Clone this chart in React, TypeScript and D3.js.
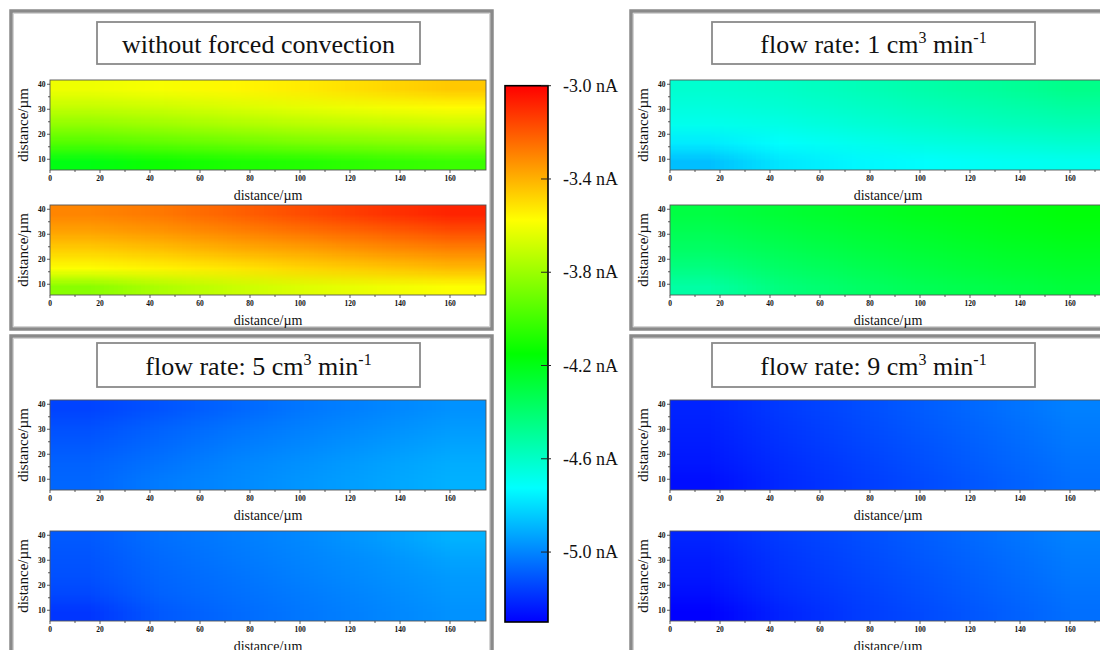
import React, { useMemo } from "react";
import * as d3 from "d3";

// Scan extents (µm) and current range (nA)
const X_EXTENT = [0, 174.4];
const Y_EXTENT = [5.7, 41.7];
const CURRENT_RANGE = [-5.3, -3.0];
const RAINBOW = ["#0000ff", "#00ffff", "#00ff00", "#ffff00", "#ff0000"];

const COLORBAR_TICKS = [-3.0, -3.4, -3.8, -4.2, -4.6, -5.0];
const X_MAJOR = [0, 20, 40, 60, 80, 100, 120, 140, 160];
const X_MINOR = [10, 30, 50, 70, 90, 110, 130, 150, 170];
const Y_MAJOR = [10, 20, 30, 40];
const Y_MINOR = [15, 25, 35];

// Sampling grid of the SECM maps (cell centres, µm)
const GRID_X = [14.5, 43.6, 72.7, 101.8, 130.9, 160.0];
const GRID_Y = [38.1, 30.9, 23.7, 16.5, 9.3];

// Tip current maps (nA), rows follow GRID_Y, columns follow GRID_X
const stillUpper = [
  [-3.61, -3.59, -3.56, -3.53, -3.49, -3.45],
  [-3.71, -3.69, -3.66, -3.63, -3.6, -3.57],
  [-3.83, -3.8, -3.77, -3.74, -3.72, -3.7],
  [-3.97, -3.94, -3.91, -3.88, -3.86, -3.84],
  [-4.19, -4.12, -4.09, -4.07, -4.04, -4.02],
];
const stillLower = [
  [-3.3, -3.27, -3.22, -3.17, -3.12, -3.08],
  [-3.37, -3.34, -3.3, -3.26, -3.22, -3.18],
  [-3.47, -3.44, -3.4, -3.37, -3.33, -3.3],
  [-3.58, -3.55, -3.52, -3.48, -3.45, -3.42],
  [-3.84, -3.76, -3.7, -3.65, -3.61, -3.58],
];
const flow1Upper = [
  [-4.62, -4.6, -4.57, -4.53, -4.5, -4.46],
  [-4.65, -4.63, -4.6, -4.57, -4.54, -4.51],
  [-4.69, -4.67, -4.64, -4.61, -4.58, -4.56],
  [-4.77, -4.72, -4.69, -4.66, -4.64, -4.62],
  [-4.87, -4.78, -4.74, -4.72, -4.7, -4.69],
];
const flow1Lower = [
  [-4.3, -4.27, -4.24, -4.21, -4.19, -4.17],
  [-4.34, -4.3, -4.27, -4.24, -4.21, -4.19],
  [-4.38, -4.34, -4.3, -4.27, -4.24, -4.22],
  [-4.44, -4.38, -4.34, -4.3, -4.27, -4.25],
  [-4.52, -4.43, -4.38, -4.34, -4.31, -4.28],
];
const flow5Upper = [
  [-5.15, -5.11, -5.07, -5.03, -5.0, -4.97],
  [-5.12, -5.08, -5.04, -5.01, -4.98, -4.95],
  [-5.1, -5.06, -5.02, -4.99, -4.96, -4.93],
  [-5.08, -5.04, -5.0, -4.97, -4.94, -4.91],
  [-5.07, -5.02, -4.99, -4.96, -4.93, -4.9],
];
const flow5Lower = [
  [-5.1, -5.05, -5.02, -4.99, -4.95, -4.9],
  [-5.11, -5.06, -5.03, -5.0, -4.97, -4.93],
  [-5.12, -5.07, -5.04, -5.01, -4.98, -4.95],
  [-5.14, -5.08, -5.05, -5.02, -4.99, -4.96],
  [-5.18, -5.1, -5.06, -5.03, -5.0, -4.97],
];
const flow9Upper = [
  [-5.22, -5.17, -5.13, -5.09, -5.05, -5.01],
  [-5.23, -5.18, -5.14, -5.1, -5.06, -5.02],
  [-5.24, -5.19, -5.15, -5.11, -5.07, -5.03],
  [-5.25, -5.2, -5.16, -5.12, -5.08, -5.04],
  [-5.27, -5.21, -5.17, -5.13, -5.09, -5.05],
];
const flow9Lower = [
  [-5.22, -5.17, -5.13, -5.09, -5.05, -5.01],
  [-5.24, -5.18, -5.14, -5.1, -5.06, -5.02],
  [-5.25, -5.19, -5.15, -5.11, -5.07, -5.03],
  [-5.27, -5.2, -5.16, -5.12, -5.08, -5.04],
  [-5.3, -5.22, -5.17, -5.13, -5.09, -5.05],
];

const FLOW_RATES = [null, 1, 5, 9];
const MAPS = [
  [stillUpper, stillLower],
  [flow1Upper, flow1Lower],
  [flow5Upper, flow5Lower],
  [flow9Upper, flow9Lower],
];

// Panel placement: column (left/right) and row (top/bottom)
const COLS = [
  { x: 11, titleX: 97 },
  { x: 631, titleX: 712 },
];
const ROWS = [
  { y: 11, titleY: 22, titleH: 42, plotTops: [80, 205] },
  { y: 336, titleY: 343, titleH: 44, plotTops: [400, 531] },
];
const PANEL_W = 481;
const PANEL_H = 318;
const TITLE_W = 323;
const PX_PER_UM = 2.5;

const SERIF = "'Liberation Serif', 'Times New Roman', serif";

const colour = d3
  .scaleLinear<string>()
  .domain(d3.range(RAINBOW.length).map((i) => CURRENT_RANGE[0] + (i * (CURRENT_RANGE[1] - CURRENT_RANGE[0])) / (RAINBOW.length - 1)))
  .range(RAINBOW)
  .interpolate(d3.interpolateRgb)
  .clamp(true);

function rasterise(grid: number[][]): string {
  const rows = grid.length;
  const cols = grid[0].length;
  const canvas = document.createElement("canvas");
  canvas.width = cols;
  canvas.height = rows;
  const ctx = canvas.getContext("2d")!;
  const img = ctx.createImageData(cols, rows);
  grid.forEach((row, r) =>
    row.forEach((v, c) => {
      const rgb = d3.rgb(colour(v));
      const k = (r * cols + c) * 4;
      img.data[k] = rgb.r;
      img.data[k + 1] = rgb.g;
      img.data[k + 2] = rgb.b;
      img.data[k + 3] = 255;
    })
  );
  ctx.putImageData(img, 0, 0);
  return canvas.toDataURL();
}

function MapPlot({ left, top, grid }: { left: number; top: number; grid: number[][] }) {
  const width = (X_EXTENT[1] - X_EXTENT[0]) * PX_PER_UM;
  const height = (Y_EXTENT[1] - Y_EXTENT[0]) * PX_PER_UM;
  const x = d3.scaleLinear().domain(X_EXTENT).range([left, left + width]);
  const y = d3.scaleLinear().domain(Y_EXTENT).range([top + height, top]);
  const href = useMemo(() => rasterise(grid), [grid]);
  const dx = GRID_X[1] - GRID_X[0];
  const dy = GRID_Y[0] - GRID_Y[1];
  const x0 = x(GRID_X[0] - dx / 2);
  const x1 = x(GRID_X[GRID_X.length - 1] + dx / 2);
  const y0 = y(GRID_Y[0] + dy / 2);
  const y1 = y(GRID_Y[GRID_Y.length - 1] - dy / 2);
  const bottom = top + height;
  const tickColour = "#333";
  return (
    <g>
      <defs>
        <clipPath id={`clip-${left}-${top}`}>
          <rect x={left} y={top} width={width} height={height} />
        </clipPath>
      </defs>
      <image
        href={href}
        x={x0}
        y={y0}
        width={x1 - x0}
        height={y1 - y0}
        preserveAspectRatio="none"
        clipPath={`url(#clip-${left}-${top})`}
      />
      <rect x={left} y={top} width={width} height={height} fill="none" stroke="#555" strokeWidth={0.9} />
      {X_MAJOR.map((t) => (
        <g key={`xm${t}`}>
          <line x1={x(t)} x2={x(t)} y1={bottom} y2={bottom + 3} stroke={tickColour} strokeWidth={0.8} />
          <text
            x={x(t)}
            y={bottom + 8}
            textAnchor="middle"
            dominantBaseline="central"
            fontFamily={SERIF}
            fontWeight="bold"
            fontSize={7.5}
            fill="#111"
          >
            {t}
          </text>
        </g>
      ))}
      {X_MINOR.map((t) => (
        <line key={`xn${t}`} x1={x(t)} x2={x(t)} y1={bottom} y2={bottom + 2} stroke={tickColour} strokeWidth={0.8} />
      ))}
      {Y_MAJOR.map((t) => (
        <g key={`ym${t}`}>
          <line x1={left - 3} x2={left} y1={y(t)} y2={y(t)} stroke={tickColour} strokeWidth={0.8} />
          <text
            x={left - 4.5}
            y={y(t)}
            textAnchor="end"
            dominantBaseline="central"
            fontFamily={SERIF}
            fontWeight="bold"
            fontSize={7.5}
            fill="#111"
          >
            {t}
          </text>
        </g>
      ))}
      {Y_MINOR.map((t) => (
        <line key={`yn${t}`} x1={left - 2} x2={left} y1={y(t)} y2={y(t)} stroke={tickColour} strokeWidth={0.8} />
      ))}
      <text
        x={left + width / 2}
        y={bottom + 25}
        textAnchor="middle"
        dominantBaseline="central"
        fontFamily={SERIF}
        fontSize={14}
        fill="#111"
      >
        distance/µm
      </text>
      <text
        transform={`translate(${left - 27.5},${top + height / 2}) rotate(-90)`}
        textAnchor="middle"
        dominantBaseline="central"
        fontFamily={SERIF}
        fontSize={15}
        fill="#111"
      >
        distance/µm
      </text>
    </g>
  );
}

function Title({ cx, baseline, rate }: { cx: number; baseline: number; rate: number | null }) {
  if (rate === null) {
    return (
      <text x={cx} y={baseline} textAnchor="middle" fontFamily={SERIF} fontSize={26} fill="#111">
        without forced convection
      </text>
    );
  }
  return (
    <text x={cx} y={baseline} textAnchor="middle" fontFamily={SERIF} fontSize={26} fill="#111">
      {`flow rate: ${rate} cm`}
      <tspan dy={-10} fontSize={16}>
        3
      </tspan>
      <tspan dy={10}> min</tspan>
      <tspan dy={-10} fontSize={16}>
        -1
      </tspan>
    </text>
  );
}

function Panel({ index }: { index: number }) {
  const col = COLS[index % 2];
  const row = ROWS[Math.floor(index / 2)];
  const plotLeft = col.x + 39;
  return (
    <g>
      <rect x={col.x} y={row.y} width={PANEL_W} height={PANEL_H} fill="#fff" stroke="#8a8a8a" strokeWidth={3.5} />
      <rect
        x={col.x + 2.5}
        y={row.y + 2.5}
        width={PANEL_W - 5}
        height={PANEL_H - 5}
        fill="none"
        stroke="#d4d4d4"
        strokeWidth={1}
      />
      <rect
        x={col.titleX}
        y={row.titleY}
        width={TITLE_W}
        height={row.titleH}
        fill="#fff"
        stroke="#8a8a8a"
        strokeWidth={1.8}
      />
      <Title cx={col.titleX + TITLE_W / 2} baseline={row.titleY + row.titleH / 2 + 10} rate={FLOW_RATES[index]} />
      {MAPS[index].map((grid, k) => (
        <MapPlot key={k} left={plotLeft} top={row.plotTops[k]} grid={grid} />
      ))}
    </g>
  );
}

function ColourBar() {
  const left = 505;
  const width = 43;
  const y = d3.scaleLinear().domain(CURRENT_RANGE).range([622, 85.7]);
  const stops = colour.domain();
  return (
    <g>
      <defs>
        <linearGradient id="rainbow" x1="0" y1="1" x2="0" y2="0">
          {stops.map((v, i) => (
            <stop
              key={i}
              offset={(v - CURRENT_RANGE[0]) / (CURRENT_RANGE[1] - CURRENT_RANGE[0])}
              stopColor={colour(v)}
            />
          ))}
        </linearGradient>
      </defs>
      <rect
        x={left}
        y={y(CURRENT_RANGE[1])}
        width={width}
        height={y(CURRENT_RANGE[0]) - y(CURRENT_RANGE[1])}
        fill="url(#rainbow)"
        stroke="#000"
        strokeWidth={1.6}
      />
      {COLORBAR_TICKS.map((t) => (
        <g key={t}>
          <line x1={left + width - 7} x2={left + width + 3} y1={y(t)} y2={y(t)} stroke="#222" strokeWidth={1} />
          <text
            x={563}
            y={y(t)}
            dominantBaseline="central"
            fontFamily={SERIF}
            fontSize={18}
            fill="#111"
          >
            {`${t.toFixed(1)} nA`}
          </text>
        </g>
      ))}
    </g>
  );
}

export default function App() {
  return (
    <svg
      width={1100}
      height={650}
      viewBox="0 0 1100 650"
      style={{ position: "absolute", left: 0, top: 0, background: "#fff" }}
    >
      <rect x={0} y={0} width={1100} height={650} fill="#fff" />
      {[0, 1, 2, 3].map((i) => (
        <Panel key={i} index={i} />
      ))}
      <ColourBar />
    </svg>
  );
}
